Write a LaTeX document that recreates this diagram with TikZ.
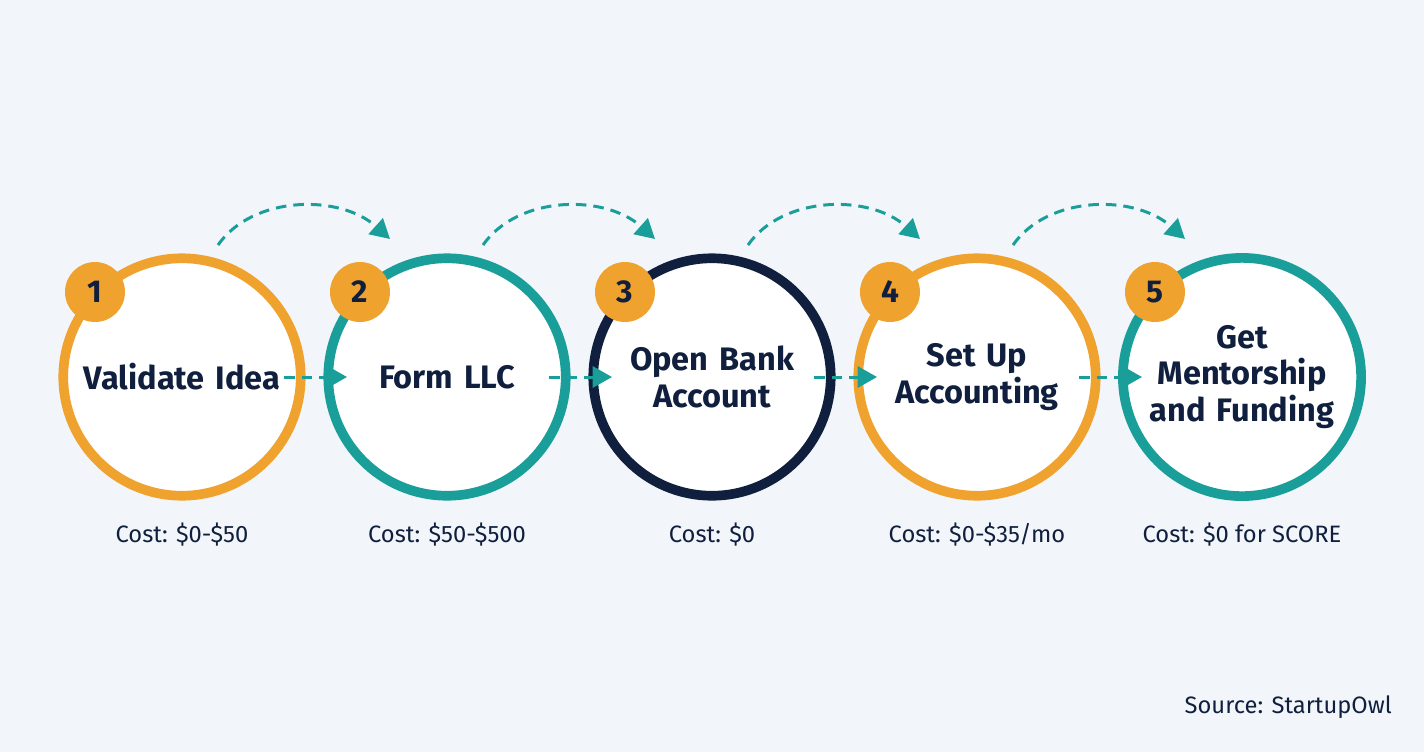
\documentclass[tikz,border=0pt]{standalone}
\usepackage{fontspec}
\setmainfont{Fira Sans}
\usetikzlibrary{arrows.meta,calc}
\definecolor{orng}{HTML}{F0A22E}
\definecolor{teal2}{HTML}{1A9E9A}
\definecolor{navy}{HTML}{0F1F3D}
\definecolor{bg}{HTML}{F2F6FA}
\begin{document}
\begin{tikzpicture}[x=0.02cm, y=-0.02cm]
\tikzstyle{stage}=[circle, draw, line width=5.5pt, fill=white, minimum size=4.75cm, text width=4.3cm, align=center, text=navy, font=\fontsize{18.5}{21}\selectfont\bfseries, inner sep=0pt]
\tikzstyle{badge}=[circle, fill=orng, minimum size=1.2cm, text=navy, font=\fontsize{18}{20}\selectfont\bfseries, inner sep=0pt]
\tikzstyle{cost}=[text=navy, font=\fontsize{13.5}{15}\selectfont]
\tikzstyle{arrow}=[-{Triangle[length=11pt,width=12pt]}, teal2, line width=1.7pt, dash pattern=on 6pt off 4pt]
\fill[bg] (0,0) rectangle (1424,752);
\useasboundingbox (0,0) rectangle (1424,752);
\node (A) [stage, draw=orng]  at (182,377) {Validate Idea};
\node (B) [stage, draw=teal2] at (447,377) {Form LLC};
\node (C) [stage, draw=navy]  at (712,377) {Open Bank\\Account};
\node (D) [stage, draw=orng]  at (977,377) {Set Up\\Accounting};
\node (E) [stage, draw=teal2] at (1242,377) {Get\\Mentorship\\and Funding};
\node (nA) [badge] at (95,292) {1};
\node (nB) [badge] at (360,292) {2};
\node (nC) [badge] at (625,292) {3};
\node (nD) [badge] at (890,292) {4};
\node (nE) [badge] at (1155,292) {5};
\node (cA) [cost] at (182,535) {Cost: \$0-\$50};
\node (cB) [cost] at (447,535) {Cost: \$50-\$500};
\node (cC) [cost] at (712,535) {Cost: \$0};
\node (cD) [cost] at (977,535) {Cost: \$0-\$35/mo};
\node (cE) [cost] at (1242,535) {Cost: \$0 for SCORE};
\node (src) [cost, anchor=east] at (1398,707) {Source: StartupOwl};

\foreach \a/\b [count=\i] in {A/B,B/C,C/D,D/E} {
  \coordinate (s\i) at ($(\a.center)+(102,0)$);
  \coordinate (t\i) at ($(\b.center)+(-100,0)$);
  \coordinate (u\i) at ($(\a.center)+(36,-132)$);
  \coordinate (v\i) at ($(\b.center)+(-57,-138)$);
  \draw [arrow] (s\i) -- (t\i);
  \draw [arrow] (u\i) .. controls +(35,-50) and +(-50,-45) .. (v\i);
}
\end{tikzpicture}
\end{document}
